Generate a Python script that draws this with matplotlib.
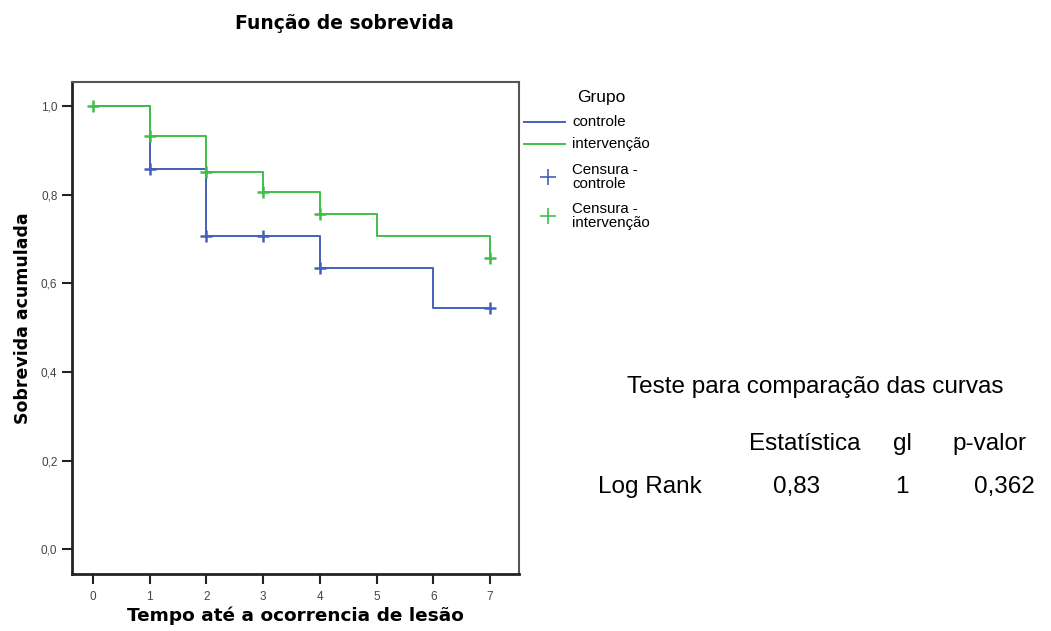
import matplotlib.pyplot as plt
from matplotlib.lines import Line2D

plt.rcParams['font.family'] = ['Liberation Sans', 'DejaVu Sans']

# Dados (Kaplan-Meier)
tempo_ctrl = [0, 1, 2, 3, 4, 5, 6, 7]
surv_ctrl = [1.0, 0.857, 0.706, 0.706, 0.635, 0.635, 0.545, 0.545]
cens_t_ctrl = [1, 2, 3, 4, 7]
cens_s_ctrl = [0.857, 0.706, 0.706, 0.635, 0.545]

tempo_int = [0, 1, 2, 3, 4, 5, 6, 7]
surv_int = [1.0, 0.933, 0.850, 0.806, 0.757, 0.707, 0.707, 0.656]
cens_t_int = [0, 1, 2, 3, 4, 7]
cens_s_int = [1.0, 0.933, 0.850, 0.806, 0.757, 0.656]

cabecalho = ["Estatística", "gl", "p-valor"]
linha_teste = ["Log Rank", "0,83", "1", "0,362"]

azul = "#4560b8"
verde = "#3fbf4a"

fig = plt.figure(figsize=(10.51, 6.31), dpi=100)
ax = fig.add_axes([0.0685, 0.0903, 0.4253, 0.7797])

ax.step(tempo_ctrl, surv_ctrl, where='post', color=azul, lw=1.4)
ax.step(tempo_int, surv_int, where='post', color=verde, lw=1.4)
ax.plot(cens_t_ctrl, cens_s_ctrl, '+', color=azul, ms=8, mew=1.8)
ax.plot(cens_t_int, cens_s_int, '+', color=verde, ms=8, mew=1.8)

ax.set_xlim(-0.37, 7.51)
ax.set_ylim(-0.056, 1.054)
ax.set_xticks(range(8))
ax.set_yticks([0, 0.2, 0.4, 0.6, 0.8, 1.0])
ax.set_yticklabels(["0,0", "0,2", "0,4", "0,6", "0,8", "1,0"])
ax.tick_params(labelsize=8.5, labelcolor='#444444', color='#222222',
               length=7, width=1.5, direction='out')
ax.tick_params(axis='x', pad=5)
for s in ['left', 'bottom']:
    ax.spines[s].set_linewidth(2)
    ax.spines[s].set_color('#222222')
for s in ['top', 'right']:
    ax.spines[s].set_linewidth(1.5)
    ax.spines[s].set_color('#555555')

bold = dict(family='DejaVu Sans', fontweight='bold')
ax.set_xlabel("Tempo até a ocorrencia de lesão", fontsize=13.3, labelpad=3, **bold)
ax.set_ylabel("Sobrevida acumulada", fontsize=12.5, **bold)
ax.yaxis.set_label_coords(-0.089, 0.52)
fig.text(0.328, 0.963, "Função de sobrevida", fontsize=13.5,
         ha='center', va='center', **bold)

# Legenda (desenhada à mão, como no SPSS)
tf = fig.transFigure
fig.text(0.572, 0.846, "Grupo", fontsize=12.5, ha='center', va='center')
leg_itens = [
    ("controle", azul, 'linha', 0.806),
    ("intervenção", verde, 'linha', 0.771),
    ("Censura -\ncontrole", azul, 'cruz', 0.719),
    ("Censura -\nintervenção", verde, 'cruz', 0.658),
]
for rotulo, cor, tipo, y in leg_itens:
    if tipo == 'linha':
        fig.add_artist(Line2D([0.4986, 0.5376], [y, y], color=cor, lw=1.4, transform=tf))
    else:
        fig.add_artist(Line2D([0.5214], [y], color=cor, marker='+', ms=12,
                              mew=1.2, ls='none', transform=tf))
    fig.text(0.5442, y, rotulo, fontsize=10.8, ha='left', va='center', linespacing=1.0)

# Tabela do teste
fs = 17.5
fig.text(0.7755, 0.3772, "Teste para comparação das curvas", fontsize=fs,
         ha='center', va='baseline')
for x, t in zip([0.766, 0.859, 0.941], cabecalho):
    fig.text(x, 0.2868, t, fontsize=fs, ha='center', va='baseline')
fig.text(0.569, 0.2187, linha_teste[0], fontsize=fs, ha='left', va='baseline')
fig.text(0.758, 0.2187, linha_teste[1], fontsize=fs, ha='center', va='baseline')
fig.text(0.858, 0.2187, linha_teste[2], fontsize=fs, ha='center', va='baseline')
fig.text(0.985, 0.2187, linha_teste[3], fontsize=fs, ha='right', va='baseline')

fig.savefig("out.png", dpi=100)
